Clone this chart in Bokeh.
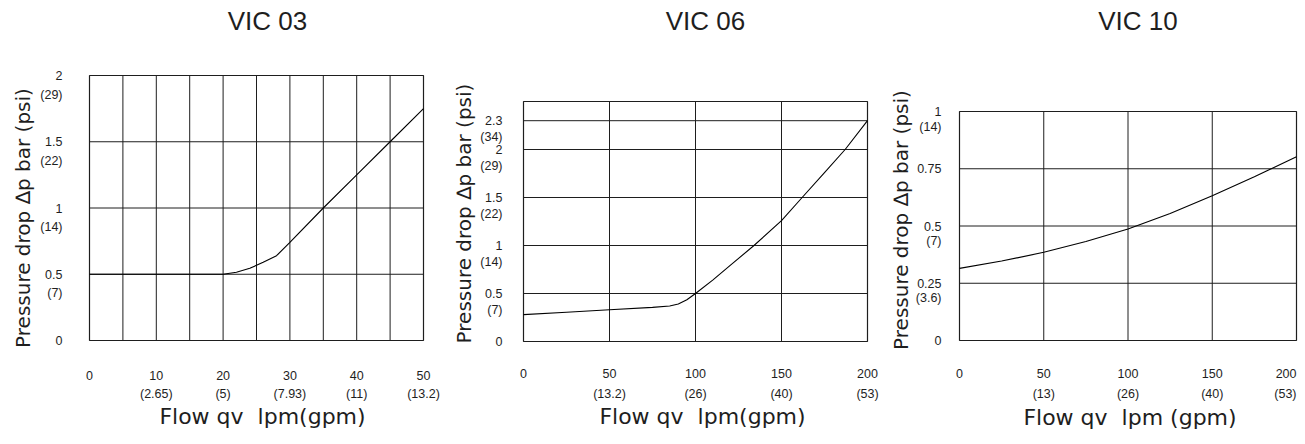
import numpy as np
from bokeh.plotting import figure
from bokeh.models import Range1d, ColumnDataSource
from bokeh.core.properties import value
from bokeh.layouts import row
from bokeh.embed import file_html
from bokeh.resources import INLINE

# ---------------- data ----------------
titles = ["VIC 03", "VIC 06", "VIC 10"]
y_title = "Pressure drop \u2206p bar (psi)"
# non-breaking space keeps the double gap visible in SVG text
x_titles = ["Flow qv\u00a0 lpm(gpm)", "Flow qv\u00a0 lpm(gpm)", "Flow qv\u00a0 lpm (gpm)"]

# VIC 03
vic03_flow = [0, 5, 10, 15, 20, 22, 24, 26, 28, 30, 35, 40, 45, 50]
vic03_dp = [0.5, 0.5, 0.5, 0.5, 0.5, 0.515, 0.545, 0.59, 0.64, 0.74, 1.0, 1.25, 1.5, 1.75]
vic03_xticks = [0, 10, 20, 30, 40, 50]
vic03_xlabels = ["0", "10", "20", "30", "40", "50"]
vic03_xgpm = ["", "(2.65)", "(5)", "(7.93)", "(11)", "(13.2)"]
vic03_xgrid = [5, 10, 15, 20, 25, 30, 35, 40, 45]
vic03_yticks = [0, 0.5, 1, 1.5, 2]
vic03_ylabels = ["0", "0.5", "1", "1.5", "2"]
vic03_ypsi = ["", "(7)", "(14)", "(22)", "(29)"]
vic03_ygrid = [0.5, 1, 1.5]
vic03_xrange = (0, 50)
vic03_yrange = (0, 2)

# VIC 06
vic06_flow = [0, 25, 50, 75, 85, 90, 95, 100, 110, 120, 134, 150, 162, 175, 187, 200]
vic06_dp = [0.28, 0.305, 0.33, 0.355, 0.37, 0.39, 0.435, 0.5, 0.64, 0.79, 1.0, 1.26, 1.5, 1.76, 2.0, 2.3]
vic06_xticks = [0, 50, 100, 150, 200]
vic06_xlabels = ["0", "50", "100", "150", "200"]
vic06_xgpm = ["", "(13.2)", "(26)", "(40)", "(53)"]
vic06_xgrid = [50, 100, 150]
vic06_yticks = [0, 0.5, 1, 1.5, 2, 2.3]
vic06_ylabels = ["0", "0.5", "1", "1.5", "2", "2.3"]
vic06_ypsi = ["", "(7)", "(14)", "(22)", "(29)", "(34)"]
vic06_ygrid = [0.5, 1, 1.5, 2, 2.3]
vic06_xrange = (0, 200)
vic06_yrange = (0, 2.5)

# VIC 10
vic10_flow = [0, 25, 50, 75, 100, 125, 150, 175, 200]
vic10_dp = [0.315, 0.347, 0.385, 0.432, 0.487, 0.555, 0.632, 0.715, 0.802]
vic10_xticks = [0, 50, 100, 150, 200]
vic10_xlabels = ["0", "50", "100", "150", "200"]
vic10_xgpm = ["", "(13)", "(26)", "(40)", "(53)"]
vic10_xgrid = [50, 100, 150]
vic10_yticks = [0, 0.25, 0.5, 0.75, 1]
vic10_ylabels = ["0", "0.25", "0.5", "0.75", "1"]
vic10_ypsi = ["", "(3.6)", "(7)", "", "(14)"]
vic10_ygrid = [0.25, 0.5, 0.75]
vic10_xrange = (0, 200)
vic10_yrange = (0, 1)

# ---------------- style / layout ----------------
FONT = "Liberation Sans"
WIDE_FONT = "DejaVu Sans"
INK = "#1e1e1e"
TICK_SIZE = "12.5px"

# pixel layout of each panel: plot box size and the margins around it
layouts = [
    dict(fw=334, fh=265, bl=89, br=21, bt=75, bb=96,
         ylab_dx=-27, psi_dy=19, xlab_dy=35, gpm_dy=53, last_right=False,
         title_dx=11, title_dy=-55, ytitle_dx=-67, ytitle_dy=10,
         xtitle_dx=6, xtitle_dy=76),
    dict(fw=344, fh=240, bl=79, br=15, bt=101, bb=95,
         ylab_dx=-21, psi_dy=16, xlab_dy=32, gpm_dy=52, last_right=False,
         title_dx=10, title_dy=-81, ytitle_dx=-60, ytitle_dy=-8,
         xtitle_dx=7, xtitle_dy=75),
    dict(fw=337, fh=229, bl=77, br=9, bt=111, bb=96,
         ylab_dx=-18, psi_dy=15, xlab_dy=33, gpm_dy=53, last_right=True,
         title_dx=10, title_dy=-91, ytitle_dx=-59, ytitle_dy=-6,
         xtitle_dx=2, xtitle_dy=77),
]

datasets = [
    (vic03_flow, vic03_dp, vic03_xticks, vic03_xlabels, vic03_xgpm, vic03_xgrid,
     vic03_yticks, vic03_ylabels, vic03_ypsi, vic03_ygrid, vic03_xrange, vic03_yrange),
    (vic06_flow, vic06_dp, vic06_xticks, vic06_xlabels, vic06_xgpm, vic06_xgrid,
     vic06_yticks, vic06_ylabels, vic06_ypsi, vic06_ygrid, vic06_xrange, vic06_yrange),
    (vic10_flow, vic10_dp, vic10_xticks, vic10_xlabels, vic10_xgpm, vic10_xgrid,
     vic10_yticks, vic10_ylabels, vic10_ypsi, vic10_ygrid, vic10_xrange, vic10_yrange),
]


def make_panel(i):
    (flow, dp, xt, xl, xg, xgrid, yt, yl, yp, ygrid, xr, yr) = datasets[i]
    L = layouts[i]
    W = L["bl"] + L["fw"] + L["br"]
    H = L["bt"] + L["fh"] + L["bb"]
    dx = (xr[1] - xr[0]) / L["fw"]
    dy = (yr[1] - yr[0]) / L["fh"]
    x_range = Range1d(xr[0] - L["bl"] * dx, xr[1] + L["br"] * dx)
    y_range = Range1d(yr[0] - L["bb"] * dy, yr[1] + L["bt"] * dy)

    p = figure(frame_width=W, frame_height=H,
               min_border_left=0, min_border_right=0, min_border_top=0, min_border_bottom=0,
               x_range=x_range, y_range=y_range,
               x_axis_type=None, y_axis_type=None,
               toolbar_location=None, output_backend="svg")
    p.background_fill_color = "white"
    p.border_fill_color = "white"
    p.outline_line_color = None
    p.grid.visible = False

    # grid lines inside the plot box
    p.segment(x0=xgrid, y0=[yr[0]] * len(xgrid), x1=xgrid, y1=[yr[1]] * len(xgrid),
              line_color=INK, line_width=1)
    p.segment(x0=[xr[0]] * len(ygrid), y0=ygrid, x1=[xr[1]] * len(ygrid), y1=ygrid,
              line_color=INK, line_width=1)
    # plot box
    p.quad(left=[xr[0]], right=[xr[1]], bottom=[yr[0]], top=[yr[1]],
           fill_color=None, line_color=INK, line_width=1.2)

    # curve
    p.line(flow, dp, line_color="black", line_width=1.1)

    # x tick labels (lpm + gpm)
    aligns = ["center"] * len(xt)
    if L["last_right"]:
        aligns[-1] = "right"
    xs = ColumnDataSource(dict(x=xt, y=[yr[0]] * len(xt), lab=xl, gpm=xg, al=aligns))
    common = dict(text_font=value(FONT), text_font_size=value(TICK_SIZE),
                  text_color=INK, text_baseline="middle")
    p.text(x="x", y="y", text="lab", source=xs, y_offset=L["xlab_dy"],
           text_align="al", **common)
    p.text(x="x", y="y", text="gpm", source=xs, y_offset=L["gpm_dy"],
           text_align="al", **common)

    # y tick labels (bar + psi)
    ys = ColumnDataSource(dict(x=[xr[0]] * len(yt), y=yt, lab=yl, psi=yp))
    p.text(x="x", y="y", text="lab", source=ys, x_offset=L["ylab_dx"],
           text_align="right", **common)
    p.text(x="x", y="y", text="psi", source=ys, x_offset=L["ylab_dx"],
           y_offset=L["psi_dy"], text_align="right", **common)

    xmid = (xr[0] + xr[1]) / 2
    ymid = (yr[0] + yr[1]) / 2
    # panel title
    p.text(x=[xmid], y=[yr[1]], text=[titles[i]], x_offset=L["title_dx"],
           y_offset=L["title_dy"], text_align="center", text_baseline="middle",
           text_font=value(FONT), text_font_size=value("26px"), text_color=INK)
    # y axis title
    p.text(x=[xr[0]], y=[ymid], text=[y_title], x_offset=L["ytitle_dx"],
           y_offset=L["ytitle_dy"], angle=np.pi / 2,
           text_align="center", text_baseline="middle",
           text_font=value(WIDE_FONT), text_font_size=value("20px"), text_color=INK)
    # x axis title
    p.text(x=[xmid], y=[yr[0]], text=[x_titles[i]], x_offset=L["xtitle_dx"],
           y_offset=L["xtitle_dy"], text_align="center", text_baseline="middle",
           text_font=value(WIDE_FONT), text_font_size=value("22px"), text_color=INK)
    return p


panels = [make_panel(i) for i in range(3)]
layout = row(*panels, spacing=0)

open("out.html", "w").write(file_html(layout, INLINE))
